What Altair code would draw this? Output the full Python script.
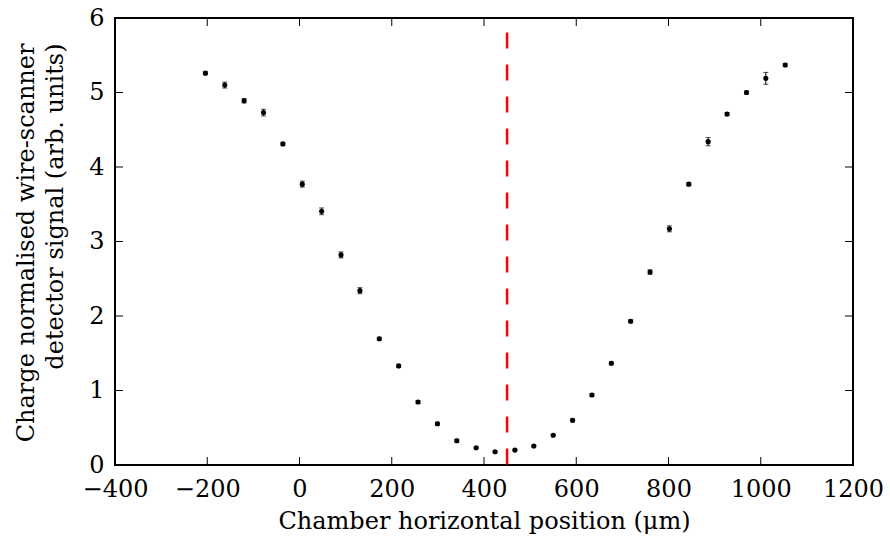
import altair as alt
import pandas as pd

# data
pos_um = [-204, -162, -120, -78, -36, 6, 48, 90, 131, 173, 215, 257, 299, 341, 383,
          424, 467, 508, 550, 592, 634, 676, 718, 760, 802, 844, 886, 927, 969, 1011, 1053]
signal = [5.26, 5.10, 4.89, 4.73, 4.31, 3.77, 3.405, 2.82, 2.34, 1.695, 1.33, 0.846, 0.554,
          0.326, 0.232, 0.178, 0.20, 0.255, 0.40, 0.60, 0.94, 1.365, 1.93, 2.59, 3.17, 3.77,
          4.34, 4.71, 5.00, 5.19, 5.37]
sig_err = [0.02, 0.04, 0.03, 0.045, 0.02, 0.04, 0.045, 0.04, 0.04, 0.02, 0.02, 0.02, 0.02,
           0.02, 0.01, 0.01, 0.01, 0.01, 0.01, 0.02, 0.02, 0.02, 0.02, 0.03, 0.04, 0.02,
           0.055, 0.02, 0.02, 0.08, 0.02]
centre_line = [450]
x_ticks = [-400, -200, 0, 200, 400, 600, 800, 1000, 1200]
y_ticks = [0, 1, 2, 3, 4, 5, 6]

FONT = "DejaVu Serif"

df = pd.DataFrame({"x": pos_um, "y": signal, "e": sig_err})
df["lo"] = df["y"] - df["e"]
df["hi"] = df["y"] + df["e"]

xscale = alt.Scale(domain=[-400, 1200], nice=False, zero=False)
yscale = alt.Scale(domain=[0, 6], nice=False, zero=False)

xaxis = alt.Axis(values=x_ticks, format="d", title="Chamber horizontal position (μm)",
                 grid=False, ticks=False, domain=False, labelPadding=12,
                 labelFontSize=24, titleFontSize=24, labelFont=FONT, titleFont=FONT,
                 labelColor="black", titleColor="black", titleFontWeight="normal",
                 titleBaseline="alphabetic", titleY=63, labelFlush=False)
yaxis = alt.Axis(values=y_ticks, format="d",
                 title=["Charge normalised wire-scanner", "detector signal (arb. units)"],
                 grid=False, ticks=False, domain=False, labelPadding=11,
                 labelFontSize=24, titleFontSize=24, labelFont=FONT, titleFont=FONT,
                 labelColor="black", titleColor="black", titleFontWeight="normal",
                 titleAngle=270, titleAlign="right", titleBaseline="alphabetic",
                 titleX=-82, titleY=25, titleLineHeight=29, labelFlush=False)

X = alt.X("x:Q", scale=xscale, axis=xaxis)
Y = alt.Y("y:Q", scale=yscale, axis=yaxis)

pts = alt.Chart(df).mark_circle(size=26, color="black", opacity=1).encode(x=X, y=Y)
bars = alt.Chart(df).mark_rule(color="black", strokeWidth=1).encode(
    x=X, y=alt.Y("lo:Q", scale=yscale, axis=yaxis), y2="hi:Q")
cap_lo = alt.Chart(df).mark_tick(color="black", orient="horizontal", size=5, thickness=1).encode(
    x=X, y=alt.Y("lo:Q", scale=yscale, axis=yaxis))
cap_hi = alt.Chart(df).mark_tick(color="black", orient="horizontal", size=5, thickness=1).encode(
    x=X, y=alt.Y("hi:Q", scale=yscale, axis=yaxis))

vline = alt.Chart(pd.DataFrame({"x": centre_line})).mark_rule(
    color="#ff0000", strokeWidth=2.5, strokeDash=[16, 16], strokeDashOffset=17.6
).encode(x=X)

xt = pd.DataFrame({"x": x_ticks})
yt = pd.DataFrame({"y": y_ticks})
TL = 8
tick_b = alt.Chart(xt).mark_rule(color="black", strokeWidth=1).encode(
    x=X, y=alt.value(447), y2=alt.value(447 - TL))
tick_t = alt.Chart(xt).mark_rule(color="black", strokeWidth=1).encode(
    x=X, y=alt.value(0), y2=alt.value(TL))
tick_l = alt.Chart(yt).mark_rule(color="black", strokeWidth=1).encode(
    y=Y, x=alt.value(0), x2=alt.value(TL))
tick_r = alt.Chart(yt).mark_rule(color="black", strokeWidth=1).encode(
    y=Y, x=alt.value(738), x2=alt.value(738 - TL))

chart = alt.layer(tick_b, tick_t, tick_l, tick_r, vline, bars, cap_lo, cap_hi, pts).properties(
    width=738, height=447,
    autosize=alt.AutoSizeParams(type="none"),
    padding={"left": 115, "top": 18, "right": 37, "bottom": 72},
    background="white",
).configure_view(stroke="black", strokeWidth=2)

chart.save("out.html", embed_options={"renderer": "svg", "actions": False})
